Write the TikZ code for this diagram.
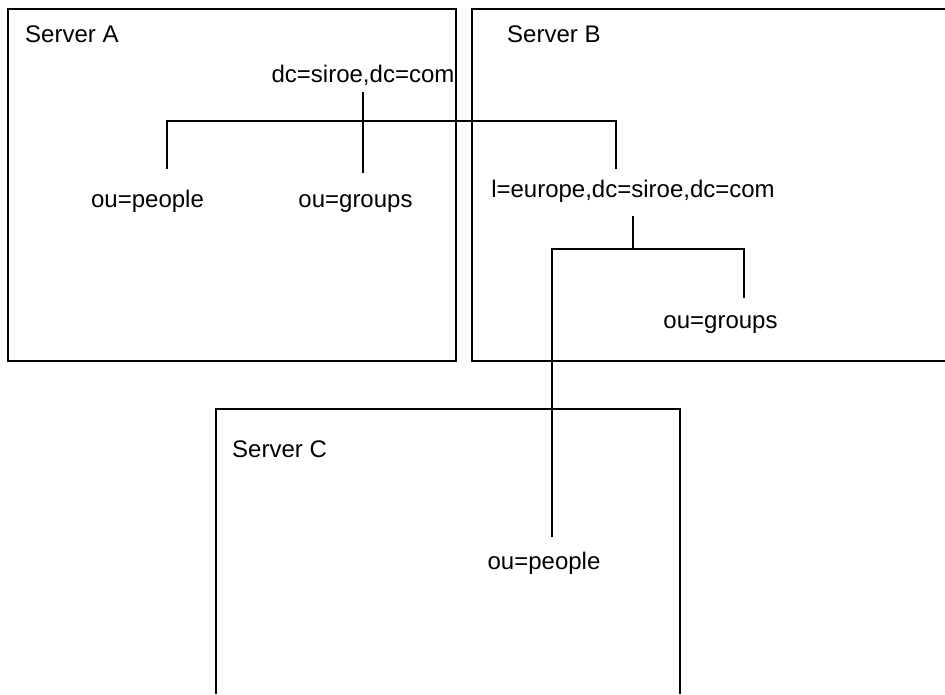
\documentclass[tikz,border=0pt]{standalone}
\usepackage{fontspec}
\setmainfont{Liberation Sans}
\usetikzlibrary{positioning}

\begin{document}
\begin{tikzpicture}[x=1pt,y=-1pt,
    lbl/.style={font=\fontsize{24}{28}\selectfont, inner sep=0pt,
      text height=17pt, text depth=5pt, anchor=base},
    wire/.style={line width=1.3pt}]
    \useasboundingbox (0,0) rectangle (945,694);
    % server boxes
    \draw[wire] (8,9) rectangle (456,361);
    \draw[wire] (945,9) -- (472,9) -- (472,361) -- (945,361);
    \draw[wire] (216,694) -- (216,409) -- (680,409) -- (680,694);
    \node[lbl,anchor=base west] (srvA) at (25,42) {Server A};
    \node[lbl,anchor=base west] (srvB) at (507,42) {Server B};
    \node[lbl,anchor=base west] (srvC) at (232,457) {Server C};
    % entries
    \node[lbl] (dc) at (363,82) {dc=siroe,dc=com};
    \node[lbl] (pplA) at (147.5,207) {ou=people};
    \node[lbl] (grpA) at (355.5,207) {ou=groups};
    \node[lbl] (eur) at (633,197) {l=europe,dc=siroe,dc=com};
    \node[lbl] (grpB) at (720.5,328) {ou=groups};
    \node[lbl] (pplC) at (544,569) {ou=people};
    % tree lines
    \coordinate (jAl) at (167,121);
    \coordinate (jAr) at (616,121);
    \coordinate (jBl) at (552,249);
    \coordinate (jBr) at (744,249);
    \draw[wire,shorten <=5pt,shorten >=17pt] (dc.south) -- (dc.south |- grpA.north);
    \draw[wire,shorten <=21pt,shorten >=11pt] (jAl |- pplA.north) -- (jAl) -- (jAr)
      -- (jAr |- eur.north);
    \draw[wire,shorten <=14pt] (eur.south) -- (eur.south |- jBl);
    \draw[wire,shorten <=15pt,shorten >=13pt] (jBl |- pplC.north) -- (jBl) -- (jBr)
      -- (jBr |- grpB.north);
  \end{tikzpicture}
\end{document}
